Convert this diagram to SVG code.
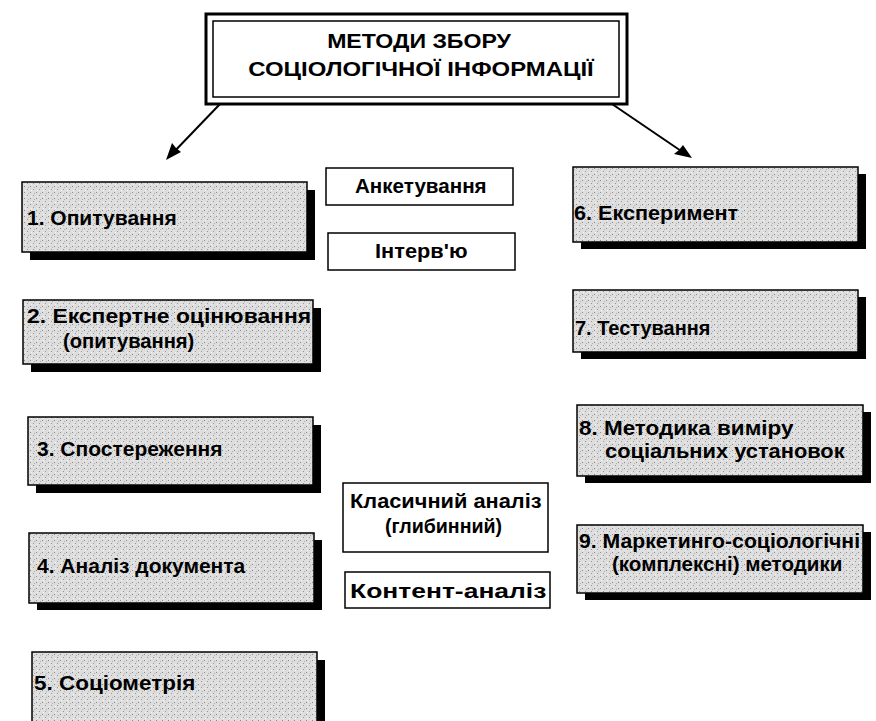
<svg xmlns="http://www.w3.org/2000/svg" width="876" height="721" viewBox="0 0 876 721">
<style>
.t{font-family:"Liberation Sans",Arial,sans-serif;font-weight:bold;fill:#000}
.ttl{font-size:21px;text-anchor:middle}
.bx{font-size:21px}
.mid{font-size:20px}
.sh{fill:#000}
.gb{fill:url(#ht);stroke:#000;stroke-width:1.5}
.pl{fill:#fff;stroke:#000;stroke-width:1.5}
.con{stroke:#000;stroke-width:2;fill:none}
</style>
<defs>
<pattern id="ht" width="6" height="6" patternUnits="userSpaceOnUse">
<rect width="6" height="6" fill="#dedede"/>
<rect x="0" y="0" width="1" height="1" fill="#8a8a8a"/>
<rect x="3" y="3" width="1" height="1" fill="#9a9a9a"/>
<rect x="4" y="1" width="1" height="1" fill="#b0b0b0"/>
<rect x="1" y="4" width="1" height="1" fill="#f4f4f4"/>
</pattern>
</defs>
<rect width="876" height="721" fill="#fff"/>

<g id="title">
<rect x="206" y="14" width="421" height="90" fill="#fff" stroke="#000" stroke-width="3"/>
<rect x="213" y="21" width="406" height="76" fill="none" stroke="#000" stroke-width="1.5"/>
<text class="t ttl" transform="translate(419,48) scale(1.1,1)">МЕТОДИ ЗБОРУ</text>
<text class="t ttl" transform="translate(421,76) scale(1.14,1)">СОЦІОЛОГІЧНОЇ ІНФОРМАЦІЇ</text>
</g>

<g id="connectors">
<line class="con" x1="220" y1="104" x2="170" y2="156"/>
<path d="M166,160 L172,143 L176,148 L181,152 Z" fill="#000"/>
<line class="con" x1="612" y1="104" x2="687" y2="155"/>
<path d="M692,158 L674,154 L679,150 L683,145 Z" fill="#000"/>
</g>

<g id="n1">
<rect class="sh" x="30" y="190" width="285" height="70"/>
<rect class="gb" x="22" y="182" width="285" height="70"/>
<text class="t bx" transform="translate(27,225)">1. Опитування</text>
</g>
<g id="n2">
<rect class="sh" x="31" y="308" width="290" height="64"/>
<rect class="gb" x="23" y="300" width="290" height="64"/>
<text class="t bx" transform="translate(27,323) scale(1.09,1)">2. Експертне оцінювання</text>
<text class="t bx" transform="translate(63,348) scale(0.96,1)">(опитування)</text>
</g>
<g id="n3">
<rect class="sh" x="36" y="425" width="285" height="68"/>
<rect class="gb" x="28" y="417" width="285" height="68"/>
<text class="t bx" transform="translate(37,456)">3. Спостереження</text>
</g>
<g id="n4">
<rect class="sh" x="37" y="540" width="285" height="70"/>
<rect class="gb" x="29" y="533" width="285" height="70"/>
<text class="t bx" transform="translate(37,573)">4. Аналіз документа</text>
</g>
<g id="n5">
<rect class="sh" x="40" y="660" width="285" height="70"/>
<rect class="gb" x="32" y="652" width="285" height="70"/>
<text class="t bx" transform="translate(34,690) scale(1.07,1)">5. Соціометрія</text>
</g>

<g id="n6">
<rect class="sh" x="581" y="174" width="285" height="75"/>
<rect class="gb" x="573" y="167" width="285" height="75"/>
<text class="t bx" transform="translate(574,220) scale(1.03,1)">6. Експеримент</text>
</g>
<g id="n7">
<rect class="sh" x="581" y="297" width="285" height="62"/>
<rect class="gb" x="573" y="290" width="285" height="62"/>
<text class="t bx" transform="translate(575,335) scale(0.95,1)">7. Тестування</text>
</g>
<g id="n8">
<rect class="sh" x="585" y="412" width="286" height="71"/>
<rect class="gb" x="577" y="405" width="286" height="71"/>
<text class="t bx" transform="translate(579,435) scale(1.07,1)">8. Методика виміру</text>
<text class="t bx" transform="translate(605,458) scale(1.04,1)">соціальних установок</text>
</g>
<g id="n9">
<rect class="sh" x="585" y="532" width="286" height="68"/>
<rect class="gb" x="577" y="525" width="286" height="68"/>
<text class="t bx" transform="translate(579,548) scale(1.01,1)">9. Маркетинго-соціологічні</text>
<text class="t bx" transform="translate(612,571) scale(0.98,1)">(комплексні) методики</text>
</g>

<g id="m1">
<rect class="pl" x="326" y="168" width="187" height="37"/>
<text class="t mid" transform="translate(355,193) scale(1.03,1)">Анкетування</text>
</g>
<g id="m2">
<rect class="pl" x="328" y="233" width="187" height="37"/>
<text class="t mid" transform="translate(375,258) scale(1.09,1)">Інтерв'ю</text>
</g>
<g id="m3">
<rect class="pl" x="343" y="483" width="205" height="69"/>
<text class="t mid" transform="translate(350,508) scale(1.09,1)">Класичний аналіз</text>
<text class="t mid" transform="translate(385,533) scale(0.98,1)">(глибинний)</text>
</g>
<g id="m4">
<rect class="pl" x="345" y="572" width="205" height="36"/>
<text class="t mid" transform="translate(350,598) scale(1.26,1)" style="font-size:21px">Контент-аналіз</text>
</g>
</svg>
